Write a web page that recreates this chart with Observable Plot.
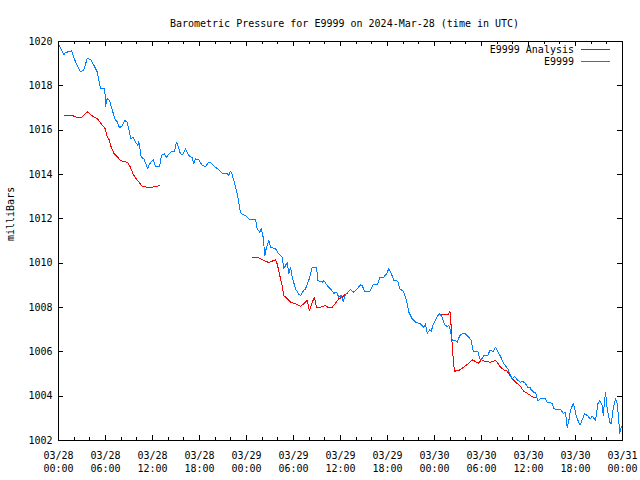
<!DOCTYPE html>
<html><head><meta charset="utf-8">
<script src="https://cdn.jsdelivr.net/npm/d3@7"></script>
<script src="https://cdn.jsdelivr.net/npm/@observablehq/plot@0.6"></script>
<style>body{margin:0;background:#fff} svg{display:block}</style>
</head><body><div id="chart"></div>
<script>
const chartTitle = "Barometric Pressure for E9999 on 2024-Mar-28 (time in UTC)";
const yLabel = "milliBars";
const seriesNames = ["E9999 Analysis", "E9999"];
const seriesColors = ["#ff0000", "#0080ff"];
const startTime = Date.UTC(2024, 2, 28, 0, 0);
const xDomainHours = [0, 72];
const yDomain = [1002, 1020];
const yTicks = [1002, 1004, 1006, 1008, 1010, 1012, 1014, 1016, 1018, 1020];
const xTickHours = [0, 6, 12, 18, 24, 30, 36, 42, 48, 54, 60, 66, 72];
const xMinorHours = [2, 4, 8, 10, 14, 16, 20, 22, 26, 28, 32, 34, 38, 40, 44, 46, 50, 52, 56, 58, 62, 64, 68, 70];

// [hours since 03/28 00:00 UTC, millibars]
const stationReadings = [
[0.13,1019.81],[0.68,1019.41],[0.89,1019.50],[1.66,1019.58],[1.83,1019.41],[2.17,1019.08],[2.81,1018.63],[3.23,1018.71],
[3.66,1019.23],[4.09,1019.20],[4.51,1018.93],[4.94,1018.63],[5.36,1017.88],[5.91,1017.88],[6.00,1017.05],[6.22,1017.43],
[6.51,1017.35],[6.86,1016.90],[7.28,1016.45],[7.49,1016.38],[7.79,1016.11],[8.13,1016.20],[8.46,1016.45],[8.77,1016.35],
[9.06,1015.93],[9.19,1015.62],[9.54,1015.68],[9.83,1015.46],[10.12,1015.31],[10.25,1015.49],[10.56,1014.78],[10.89,1014.71],
[11.40,1014.26],[11.62,1014.48],[12.09,1014.66],[12.38,1014.36],[12.89,1014.36],[13.15,1014.86],[13.53,1014.93],[13.79,1014.78],
[14.30,1015.01],[14.81,1015.05],[15.06,1015.46],[15.23,1015.31],[15.57,1014.93],[15.87,1014.90],[16.21,1015.16],[16.63,1014.86],
[17.07,1014.75],[17.27,1014.48],[17.49,1014.71],[17.91,1014.66],[18.34,1014.41],[18.77,1014.37],[19.19,1014.55],[19.49,1014.51],
[20.04,1014.33],[20.68,1014.15],[20.90,1014.06],[21.54,1014.03],[21.74,1013.96],[21.96,1014.15],[22.17,1014.00],[22.38,1013.73],
[22.72,1013.28],[22.89,1012.98],[23.14,1012.45],[23.32,1012.23],[23.87,1012.15],[24.42,1011.96],[25.15,1011.96],[25.37,1011.55],
[25.70,1011.40],[25.88,1011.55],[26.13,1011.17],[26.34,1010.35],[26.55,1010.72],[26.85,1011.02],[27.06,1010.72],[27.70,1010.65],
[28.12,1010.42],[28.56,1010.27],[28.76,1009.75],[28.98,1009.89],[29.20,1010.04],[29.40,1009.52],[29.62,1009.82],[29.83,1009.37],
[30.26,1008.84],[30.68,1008.59],[30.89,1008.54],[31.31,1008.77],[31.53,1008.84],[31.95,1009.22],[32.39,1009.82],[32.94,1009.82],
[33.10,1009.22],[33.66,1009.14],[33.87,1009.22],[34.30,1008.99],[34.72,1008.84],[35.14,1008.64],[35.49,1008.69],[35.78,1008.46],
[36.09,1008.54],[36.34,1008.28],[36.64,1008.59],[36.93,1008.69],[37.28,1008.80],[37.70,1008.69],[38.13,1008.84],[38.55,1009.02],
[38.77,1008.99],[39.06,1008.74],[39.74,1008.74],[40.17,1009.02],[40.69,1009.02],[41.02,1009.34],[41.53,1009.37],[41.87,1009.52],
[42.17,1009.75],[42.47,1009.55],[42.80,1009.22],[43.31,1009.19],[43.57,1008.84],[44.00,1008.74],[44.30,1008.46],[44.52,1008.17],
[44.72,1007.79],[45.15,1007.49],[45.57,1007.34],[46.21,1007.26],[46.63,1007.11],[46.85,1007.26],[47.07,1006.84],[47.40,1006.99],
[47.58,1006.93],[47.83,1007.23],[48.34,1007.59],[48.68,1007.72],[48.98,1007.56],[49.28,1007.23],[49.62,1007.14],[49.83,1007.19],
[50.04,1006.96],[50.26,1006.51],[50.68,1006.51],[50.90,1006.43],[51.23,1006.74],[51.54,1006.81],[51.96,1006.81],[52.38,1006.66],
[52.69,1006.51],[52.94,1006.03],[53.53,1006.03],[53.78,1005.69],[53.96,1005.64],[54.29,1005.83],[54.80,1005.83],[55.06,1006.06],
[55.49,1006.03],[55.79,1006.21],[56.00,1006.06],[56.43,1005.79],[56.85,1005.46],[57.36,1005.23],[57.70,1004.93],[57.92,1004.78],
[58.21,1004.89],[58.47,1004.78],[58.63,1004.71],[58.98,1004.63],[59.32,1004.66],[59.62,1004.56],[59.91,1004.40],[60.17,1004.40],
[60.34,1004.29],[60.68,1004.18],[60.89,1004.18],[61.19,1003.80],[61.53,1003.88],[62.17,1003.88],[62.38,1003.73],[63.02,1003.68],
[63.23,1003.43],[64.09,1003.39],[64.43,1003.23],[64.72,1003.28],[64.94,1002.60],[65.15,1002.90],[65.36,1003.35],[65.71,1003.68],
[65.87,1003.50],[66.13,1003.05],[66.55,1002.72],[66.64,1002.75],[67.15,1003.20],[67.49,1003.13],[67.91,1002.98],[68.13,1003.10],
[68.55,1002.90],[68.85,1003.66],[69.10,1003.80],[69.41,1003.58],[69.54,1003.13],[69.83,1004.18],[70.05,1003.43],[70.38,1002.83],
[70.56,1002.75],[70.81,1003.43],[71.11,1003.88],[71.32,1003.66],[71.53,1002.90],[71.62,1002.33],[71.87,1002.63]
];

// null marks a gap in the analysis series
const analysisReadings = [
[0.77,1016.65],[1.83,1016.65],[2.17,1016.60],[2.68,1016.56],[3.03,1016.60],[3.45,1016.75],[3.74,1016.83],[4.09,1016.71],
[4.51,1016.60],[4.94,1016.53],[5.23,1016.40],[5.58,1016.22],[5.91,1016.11],[6.22,1015.70],[6.42,1015.61],[6.73,1015.23],
[7.06,1014.96],[7.49,1014.81],[7.91,1014.63],[8.34,1014.59],[8.85,1014.53],[9.19,1014.33],[9.54,1014.00],[9.96,1013.79],
[10.38,1013.61],[10.69,1013.47],[11.32,1013.43],[11.96,1013.43],[12.60,1013.47],[12.93,1013.50],
[13.5,null],
[24.73,1010.27],[25.28,1010.27],[25.70,1010.22],[26.21,1010.12],[26.85,1010.03],[27.28,1010.09],[27.70,1010.15],[27.92,1009.97],
[28.25,1009.44],[28.56,1008.99],[28.76,1008.54],[29.20,1008.39],[29.62,1008.24],[30.26,1008.17],[30.89,1008.05],[31.31,1008.17],
[31.75,1008.32],[32.04,1007.86],[32.39,1008.24],[32.68,1008.46],[32.94,1008.01],[33.45,1008.01],[34.09,1008.09],[34.38,1008.01],
[34.94,1008.01],[35.36,1008.19],[35.78,1008.39],[36.21,1008.46],[36.51,1008.57],[36.86,1008.64],
[40.0,null],
[48.86,1007.68],[49.62,1007.67],[49.83,1007.72],[49.96,1007.82],[50.04,1007.64],[50.13,1007.11],[50.30,1006.06],[50.46,1005.38],
[50.59,1005.13],[51.10,1005.16],[51.74,1005.31],[52.38,1005.49],[52.81,1005.64],[53.23,1005.56],[53.66,1005.49],[53.96,1005.64],
[54.51,1005.56],[55.15,1005.53],[55.79,1005.61],[56.08,1005.49],[56.43,1005.31],[56.94,1005.16],[57.28,1005.13],[57.61,1004.93],
[58.05,1004.74],[58.47,1004.59],[58.89,1004.48],[59.40,1004.22],[59.83,1004.13],[60.26,1004.03],[60.60,1003.95],[60.89,1003.93]
];

const toDate = h => new Date(startTime + h * 3600e3);
const fmt = d3.utcFormat("%m/%d\n%H:%M");
const W = 640, H = 480, mL = 58, mR = 18, mT = 41, mB = 40;
const fw = W - mL - mR, fh = H - mT - mB;
const major = 5, minor = 3;
const mono = "DejaVu Sans Mono";

const station = stationReadings.map(([h, v]) => ({t: toDate(h), v}));
const analysis = analysisReadings.map(([h, v]) => ({t: toDate(h), v}));
const xMajor = xTickHours.map(toDate);
const xMinor = xMinorHours.map(toDate);

const plot = Plot.plot({
  width: W, height: H,
  marginLeft: mL, marginRight: mR, marginTop: mT, marginBottom: mB,
  style: {fontFamily: mono, fontSize: "10px", background: "white", color: "black"},
  x: {type: "utc", domain: xDomainHours.map(toDate)},
  y: {domain: yDomain},
  marks: [
    Plot.line(analysis, {x: "t", y: "v", stroke: seriesColors[0], strokeWidth: 1, shapeRendering: "crispEdges"}),
    Plot.line(station, {x: "t", y: "v", stroke: seriesColors[1], strokeWidth: 1, shapeRendering: "crispEdges"}),
    Plot.frame({stroke: "black", strokeWidth: 1, shapeRendering: "crispEdges"}),
    Plot.tickX(xMajor, {x: d => d, insetTop: fh - major, stroke: "black", shapeRendering: "crispEdges"}),
    Plot.tickX(xMajor, {x: d => d, insetBottom: fh - major, stroke: "black", shapeRendering: "crispEdges"}),
    Plot.tickX(xMinor, {x: d => d, insetTop: fh - minor, stroke: "black", shapeRendering: "crispEdges"}),
    Plot.tickX(xMinor, {x: d => d, insetBottom: fh - minor, stroke: "black", shapeRendering: "crispEdges"}),
    Plot.tickY(yTicks, {y: d => d, insetRight: fw - major, stroke: "black", shapeRendering: "crispEdges"}),
    Plot.tickY(yTicks, {y: d => d, insetLeft: fw - major, stroke: "black", shapeRendering: "crispEdges"}),
    Plot.axisX({ticks: xMajor, tickSize: 0, tickPadding: 9, tickFormat: fmt, label: null, lineHeight: 1.3, fontSize: 10}),
    Plot.axisY({ticks: yTicks, tickSize: 0, tickPadding: 6, tickFormat: d => String(d), label: null, fontSize: 10}),
    Plot.text([yLabel], {frameAnchor: "left", rotate: -90, dx: -48, fontSize: 10}),
    Plot.text([chartTitle], {frameAnchor: "top", dy: -22, dx: 4, fontSize: 10})
  ]
});

// legend (top-right, inside the frame)
const svg = d3.select(plot);
const legendRows = [49, 61];
seriesNames.forEach((name, i) => {
  svg.append("text").attr("x", 574).attr("y", legendRows[i]).attr("text-anchor", "end")
    .attr("dominant-baseline", "central").attr("font-family", mono).attr("font-size", 10).text(name);
  svg.append("line").attr("x1", 581).attr("x2", 610).attr("y1", legendRows[i] + 0.5).attr("y2", legendRows[i] + 0.5)
    .attr("stroke", seriesColors[i]).attr("stroke-width", 1).attr("shape-rendering", "crispEdges");
});
document.getElementById("chart").appendChild(plot);
</script>
</body></html>
